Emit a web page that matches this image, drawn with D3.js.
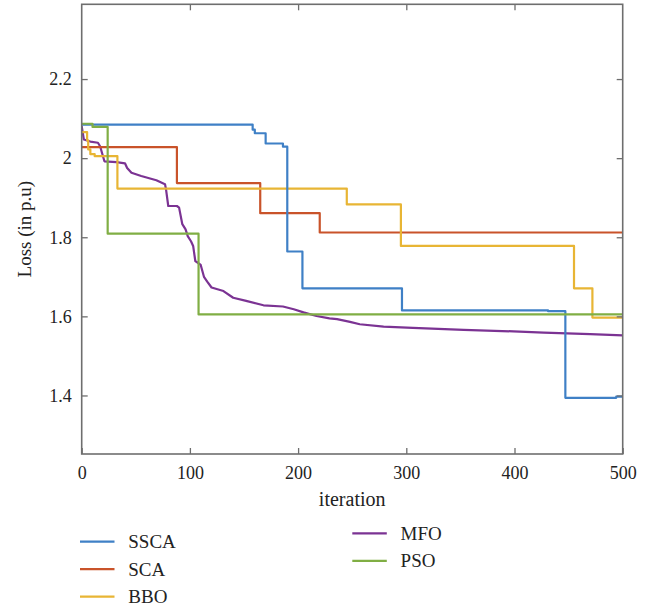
<!DOCTYPE html>
<html>
<head>
<meta charset="utf-8">
<script src="https://cdn.jsdelivr.net/npm/d3@7"></script>
<style>
  html, body { margin: 0; padding: 0; background: #fff; }
  svg { display: block; }
  text { font-family: "Liberation Serif", "Times New Roman", serif; fill: #222; }
</style>
</head>
<body>
<svg id="chart" width="657" height="607"></svg>
<script>
// Convergence of loss (p.u.) over iterations for five optimisers.
const seriesNames = ["SSCA", "SCA", "BBO", "MFO", "PSO"];
const seriesColors = ["#3f80c6", "#c9532a", "#e8b534", "#7b3393", "#80ae44"];

// Step series: [iteration, loss from that iteration on]
const sscaData = [[0, 2.085], [158, 2.072], [160, 2.063], [170, 2.037], [186, 2.029], [190, 1.764],
  [204, 1.671], [296, 1.615], [431, 1.613], [447, 1.394], [494, 1.397], [500, 1.397]];
const scaData = [[0, 2.028], [88, 1.937], [165, 1.861], [220, 1.812], [500, 1.812]];
const bboData = [[0, 2.066], [5, 2.045], [6, 2.022], [8, 2.010], [12, 2.005], [33, 1.923],
  [245, 1.883], [295, 1.778], [455, 1.671], [472, 1.597], [500, 1.597]];
const psoData = [[0, 2.087], [10, 2.079], [24, 1.809], [108, 1.605], [500, 1.605]];

// Continuous series
const mfoData = [[0, 2.081], [2, 2.047], [8, 2.042], [15, 2.039], [17, 2.030], [21, 1.992], [32, 1.990],
  [40, 1.987], [42, 1.975], [46, 1.963], [55, 1.955], [69, 1.944], [77, 1.934], [78, 1.920],
  [80, 1.879], [88, 1.879], [90, 1.875], [93, 1.833], [96, 1.820], [98, 1.803], [101, 1.790],
  [103, 1.778], [105, 1.740], [110, 1.730], [113, 1.700], [116, 1.688], [120, 1.673], [131, 1.664],
  [140, 1.647], [152, 1.639], [168, 1.628], [186, 1.625], [196, 1.618], [205, 1.610], [217, 1.601],
  [229, 1.595], [236, 1.593], [248, 1.586], [257, 1.580], [279, 1.574], [306, 1.571], [353, 1.566],
  [399, 1.562], [427, 1.559], [470, 1.555], [500, 1.552]];

const xTicks = [0, 100, 200, 300, 400, 500];
const yTicks = [1.4, 1.6, 1.8, 2, 2.2];

const series = [
  { name: "SSCA", data: sscaData, step: true },
  { name: "SCA", data: scaData, step: true },
  { name: "BBO", data: bboData, step: true },
  { name: "MFO", data: mfoData, step: false },
  { name: "PSO", data: psoData, step: true }
];

const margin = { left: 81.7, top: 4.3, right: 657 - 622.7, bottom: 607 - 454 };
const width = 657 - margin.left - margin.right;
const height = 607 - margin.top - margin.bottom;

const svg = d3.select("#chart");
const g = svg.append("g").attr("transform", `translate(${margin.left},${margin.top})`);

const x = d3.scaleLinear().domain([0, 500]).range([0, width]);
const y = d3.scaleLinear().domain([1.252, 2.389]).range([height, 0]);
const color = d3.scaleOrdinal().domain(seriesNames).range(seriesColors);

// Lines, clipped to the plot box
g.append("clipPath").attr("id", "plotclip")
  .append("rect").attr("width", width).attr("height", height);

const lineGroup = g.append("g").attr("clip-path", "url(#plotclip)");
// draw order: later series on top
const drawOrder = ["MFO", "SCA", "BBO", "SSCA", "PSO"];
drawOrder.forEach(name => {
  const s = series.find(d => d.name === name);
  const line = d3.line()
    .x(d => x(d[0]))
    .y(d => y(d[1]))
    .curve(s.step ? d3.curveStepAfter : d3.curveLinear);
  lineGroup.append("path")
    .datum(s.data)
    .attr("fill", "none")
    .attr("stroke", color(s.name))
    .attr("stroke-width", 2.2)
    .attr("stroke-linejoin", "round")
    .attr("d", line);
});

// Axes with inward ticks
const axisColor = "#6e6e6e";
const tickLen = 6;

function styleAxis(sel, showLabels) {
  sel.select(".domain").remove();
  sel.selectAll(".tick line").attr("stroke", axisColor).attr("stroke-width", 1.3);
  sel.selectAll(".tick text")
    .style("font-family", '"Liberation Serif", "Times New Roman", serif')
    .style("font-size", "18px")
    .attr("fill", "#222");
  if (!showLabels) sel.selectAll(".tick text").remove();
}

g.append("g").attr("transform", `translate(0,${height})`)
  .call(d3.axisBottom(x).tickValues(xTicks).tickSizeInner(-tickLen).tickSizeOuter(0).tickPadding(12).tickFormat(d3.format("d")))
  .call(s => styleAxis(s, true));
g.append("g")
  .call(d3.axisTop(x).tickValues(xTicks.slice(1, -1)).tickSizeInner(-tickLen).tickSizeOuter(0))
  .call(s => styleAxis(s, false));
g.append("g")
  .call(d3.axisLeft(y).tickValues(yTicks).tickSizeInner(-tickLen).tickSizeOuter(0).tickPadding(10).tickFormat(d => d3.format("~g")(d)))
  .call(s => styleAxis(s, true));
g.append("g").attr("transform", `translate(${width},0)`)
  .call(d3.axisRight(y).tickValues(yTicks).tickSizeInner(-tickLen).tickSizeOuter(0))
  .call(s => styleAxis(s, false));

// Plot frame
g.append("rect")
  .attr("width", width).attr("height", height)
  .attr("fill", "none").attr("stroke", axisColor).attr("stroke-width", 1.6);

// Axis titles
g.append("text")
  .attr("x", width / 2).attr("y", height + 52)
  .attr("text-anchor", "middle")
  .style("font-size", "20px")
  .text("iteration");

svg.append("text")
  .attr("transform", `translate(31,${margin.top + height / 2}) rotate(-90)`)
  .attr("text-anchor", "middle")
  .style("font-size", "19px")
  .text("Loss (in p.u)");

// Legend in two columns
const legendCols = [
  { names: ["SSCA", "SCA", "BBO"], x0: 80, y0: 541.7 },
  { names: ["MFO", "PSO"], x0: 352.3, y0: 533.3 }
];
const legendStep = 27.5;
legendCols.forEach(col => {
  col.names.forEach((name, i) => {
    const ly = col.y0 + i * legendStep;
    const item = svg.append("g");
    item.append("line")
      .attr("x1", col.x0).attr("x2", col.x0 + 34.5)
      .attr("y1", ly).attr("y2", ly)
      .attr("stroke", color(name)).attr("stroke-width", 2.2);
    item.append("text")
      .attr("x", col.x0 + 48.3).attr("y", ly)
      .attr("dy", "0.35em")
      .style("font-size", "19px")
      .text(name);
  });
});
</script>
</body>
</html>
